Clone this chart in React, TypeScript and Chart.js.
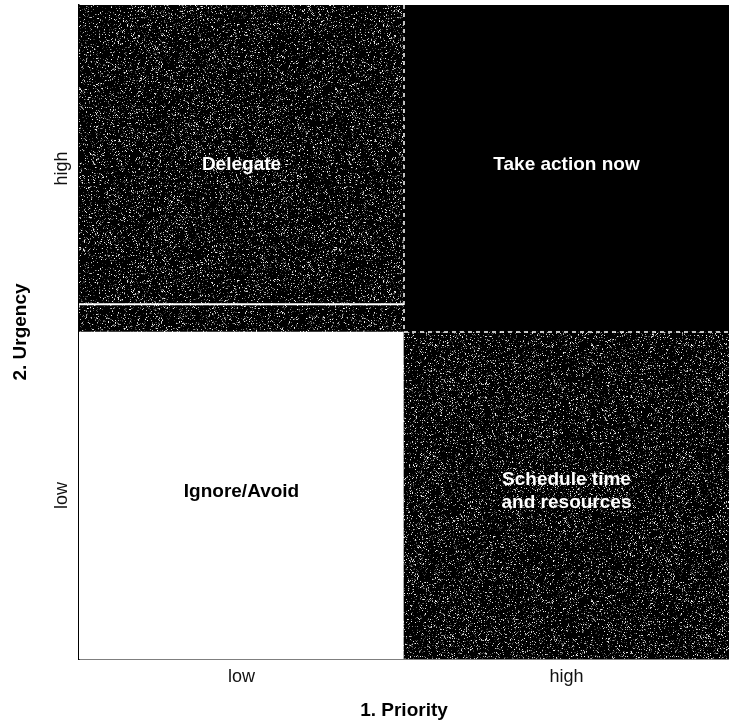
import React, { useEffect, useRef } from 'react';
import { Chart, registerables } from 'chart.js';

Chart.register(...registerables);

// ---- data ----
const priorityLabels = ['low', 'high'];
const urgencyLabels = ['low', 'high'];
const lowUrgencyRange: [number, number][] = [[0, 1], [0, 1]];
const highUrgencyRange: [number, number][] = [[1, 2], [1, 2]];
const lowUrgencyText: string[][] = [['Ignore/Avoid'], ['Schedule time', 'and resources']];
const highUrgencyText: string[][] = [['Delegate'], ['Take action now']];
const delegateRuleValue = 1.085;

const FONT = '"Liberation Sans", Arial, Helvetica, sans-serif';

function makeNoise(): CanvasPattern | string {
  const size = 256;
  const c = document.createElement('canvas');
  c.width = size;
  c.height = size;
  const ctx = c.getContext('2d');
  if (!ctx) return '#111';
  const img = ctx.createImageData(size, size);
  let s = 987654321;
  const rnd = () => {
    s = (Math.imul(s, 1664525) + 1013904223) >>> 0;
    return s / 4294967296;
  };
  for (let i = 0; i < size * size; i++) {
    const r = rnd();
    let v = 0;
    if (r < 0.09) v = 110 + Math.floor(rnd() * 145);
    else if (r < 0.17) v = 40 + Math.floor(rnd() * 50);
    img.data[i * 4] = v;
    img.data[i * 4 + 1] = v;
    img.data[i * 4 + 2] = v;
    img.data[i * 4 + 3] = 255;
  }
  ctx.putImageData(img, 0, 0);
  return ctx.createPattern(c, 'repeat') || '#111';
}

const overlayPlugin = {
  id: 'quadrantOverlay',
  afterDatasetsDraw(chart: any) {
    const ctx = chart.ctx;
    const y = chart.scales.y;
    const area = chart.chartArea;
    const lowMeta = chart.getDatasetMeta(0);
    const highMeta = chart.getDatasetMeta(1);
    const delegateEl = highMeta.data[0];
    const midY = y.getPixelForValue(1);
    const splitX = delegateEl.x + delegateEl.width / 2;

    ctx.save();
    // white rule inside Delegate quadrant
    const ruleY = y.getPixelForValue(delegateRuleValue);
    ctx.strokeStyle = '#ffffff';
    ctx.lineWidth = 2;
    ctx.beginPath();
    ctx.moveTo(delegateEl.x - delegateEl.width / 2, ruleY);
    ctx.lineTo(splitX, ruleY);
    ctx.stroke();

    // dashed separators
    ctx.setLineDash([4, 4]);
    ctx.lineWidth = 1.5;
    ctx.beginPath();
    ctx.moveTo(splitX, area.top);
    ctx.lineTo(splitX, midY);
    ctx.stroke();
    ctx.beginPath();
    ctx.moveTo(splitX, midY);
    ctx.lineTo(area.right, midY);
    ctx.stroke();
    ctx.setLineDash([]);

    // quadrant labels
    ctx.font = `bold 19px ${FONT}`;
    ctx.textAlign = 'center';
    ctx.textBaseline = 'middle';
    const drawLabels = (meta: any, texts: string[][], colors: string[]) => {
      meta.data.forEach((el: any, i: number) => {
        const cx = el.x;
        const cy = (el.y + el.base) / 2 - 4;
        const lines = texts[i];
        const lh = 23;
        ctx.fillStyle = colors[i];
        lines.forEach((t, k) => {
          ctx.fillText(t, cx, cy + (k - (lines.length - 1) / 2) * lh);
        });
      });
    };
    drawLabels(lowMeta, lowUrgencyText, ['#000000', '#ffffff']);
    drawLabels(highMeta, highUrgencyText, ['#ffffff', '#ffffff']);
    ctx.restore();
  },
};

export default function App() {
  const ref = useRef<HTMLCanvasElement | null>(null);

  useEffect(() => {
    if (!ref.current) return;
    const noise = makeNoise();
    const chart = new Chart(ref.current, {
      type: 'bar',
      data: {
        labels: priorityLabels,
        datasets: [
          {
            label: 'Low urgency',
            data: lowUrgencyRange as any,
            backgroundColor: ['#ffffff', noise] as any,
            borderWidth: 0,
            categoryPercentage: 1,
            barPercentage: 1,
          },
          {
            label: 'High urgency',
            data: highUrgencyRange as any,
            backgroundColor: [noise, '#000000'] as any,
            borderWidth: 0,
            categoryPercentage: 1,
            barPercentage: 1,
          },
        ],
      },
      options: {
        animation: false,
        responsive: true,
        maintainAspectRatio: false,
        layout: { padding: { top: 5, right: 0, left: 0, bottom: 0 } },
        plugins: { legend: { display: false }, tooltip: { enabled: false } },
        scales: {
          x: {
            type: 'category',
            stacked: true,
            offset: true,
            z: 1,
            grid: { display: false, drawTicks: false },
            border: { display: true, color: '#000', width: 1.5 },
            ticks: { color: '#111', font: { family: FONT, size: 18 }, padding: 7, maxRotation: 0 },
            title: {
              display: true,
              text: '1. Priority',
              color: '#000',
              font: { family: FONT, size: 19, weight: 'bold' },
              padding: { top: 0, bottom: 1 },
            },
            afterFit: (s: any) => {
              s.height = 64;
              s.paddingLeft = 0;
              s.paddingRight = 0;
            },
          },
          y: {
            type: 'linear',
            min: 0,
            max: 2,
            stacked: false,
            z: 1,
            grid: { display: false, drawTicks: false },
            border: { display: true, color: '#000', width: 1.5 },
            afterBuildTicks: (s: any) => {
              s.ticks = [{ value: 0.5 }, { value: 1.5 }];
            },
            ticks: {
              color: '#111',
              font: { family: FONT, size: 18 },
              minRotation: 90,
              maxRotation: 90,
              crossAlign: 'center',
              padding: 0,
              callback: (_v: any, i: number) => urgencyLabels[i],
            },
            title: {
              display: true,
              text: '2. Urgency',
              color: '#000',
              font: { family: FONT, size: 19, weight: 'bold' },
              padding: { top: 9, bottom: 0 },
            },
            afterFit: (s: any) => {
              s.width = 79;
              s.paddingTop = 0;
              s.paddingBottom = 0;
            },
          },
        },
      } as any,
      plugins: [overlayPlugin],
    });
    return () => chart.destroy();
  }, []);

  return (
    <div style={{ position: 'fixed', left: 0, top: 0, width: 729, height: 723, background: '#fff' }}>
      <canvas ref={ref} />
    </div>
  );
}
